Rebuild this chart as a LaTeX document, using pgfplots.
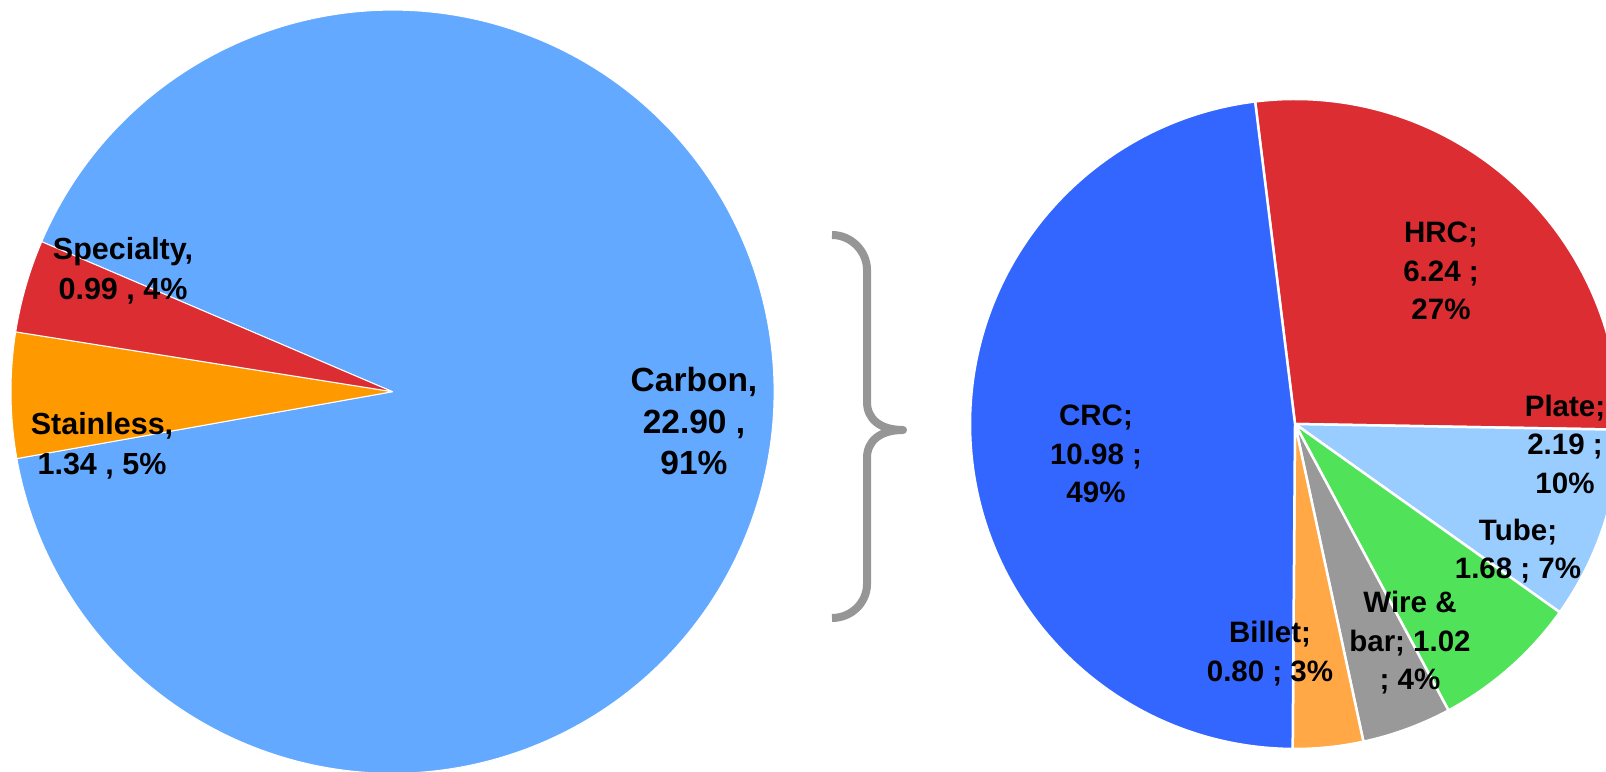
\documentclass[border=0pt]{standalone}
\usepackage{pgfplots}
\usepackage{pgfplotstable}
\pgfplotsset{compat=1.18}
\usepackage{fontspec}
\setmainfont{Liberation Sans}

\definecolor{carbonblue}{HTML}{63A9FF}
\definecolor{specred}{HTML}{DC2D33}
\definecolor{stainorange}{HTML}{FF9900}
\definecolor{crcblue}{HTML}{3366FF}
\definecolor{platecyan}{HTML}{99CCFF}
\definecolor{tubegreen}{HTML}{50E35A}
\definecolor{wiregray}{HTML}{999999}
\definecolor{billetorange}{HTML}{FFA845}
\definecolor{bracegray}{HTML}{969696}

% steel consumption by type
\pgfplotstableread{
slice value color
Carbon 22.90 carbonblue
Stainless 1.34 stainorange
Specialty 0.99 specred
}\steeltypes

% carbon steel by product
\pgfplotstableread{
slice value color
HRC 6.24 specred
Plate 2.19 platecyan
Tube 1.68 tubegreen
WireBar 1.02 wiregray
Billet 0.80 billetorange
CRC 10.98 crcblue
}\carbonproducts

% draws the rows of table #1 as wedges around (#2,#3), radius #4,
% clockwise from angle #5, separated by white lines of width #6
\newcommand\drawpie[6]{%
  \pgfplotstablegetrowsof{#1}%
  \pgfmathtruncatemacro\lastrow{\pgfplotsretval-1}%
  \gdef\pietotal{0}%
  \foreach \i in {0,...,\lastrow}{%
    \pgfplotstablegetelem{\i}{value}\of{#1}%
    \pgfmathparse{\pietotal+\pgfplotsretval}%
    \xdef\pietotal{\pgfmathresult}}%
  \xdef\pieangle{#5}%
  \foreach \i in {0,...,\lastrow}{%
    \pgfplotstablegetelem{\i}{value}\of{#1}%
    \pgfmathsetmacro\piesweep{360*\pgfplotsretval/\pietotal}%
    \pgfplotstablegetelem{\i}{color}\of{#1}%
    \edef\piecolor{\pgfplotsretval}%
    \pgfmathsetmacro\pieend{\pieangle-\piesweep}%
    \fill[\piecolor, draw=white, line width=#6, line join=round]
      (axis cs:#2,#3) -- ++(\pieangle:#4pt)
      arc[start angle=\pieangle, end angle=\pieend, radius=#4pt] -- cycle;
    \xdef\pieangle{\pieend}}%
}

\begin{document}
\begin{tikzpicture}
\path[use as bounding box] (0,0) rectangle (1606pt,771pt);
\clip (0,0) rectangle (1606pt,771pt);
\begin{axis}[
  x=1pt, y=1pt,
  xmin=0, xmax=1606, ymin=0, ymax=771,
  hide axis, clip=false,
  at={(0,0)}, anchor=south west,
]
\pgfplotsextra{\drawpie{\steeltypes}{392.5}{379.3}{381.5}{156.85}{1pt}}
\pgfplotsextra{\drawpie{\carbonproducts}{1295}{347}{325}{97.05}{2.5pt}}

% brace joining the carbon slice to its breakdown
\draw[bracegray, line width=8pt, line join=round]
  (axis cs:832,536) .. controls (axis cs:851,536) and (axis cs:867,520) .. (axis cs:867,501)
  -- (axis cs:867,369) .. controls (axis cs:867,352) and (axis cs:880,341) .. (axis cs:903,341)
  .. controls (axis cs:880,341) and (axis cs:867,330) .. (axis cs:867,313)
  -- (axis cs:867,187) .. controls (axis cs:867,168) and (axis cs:851,153) .. (axis cs:832,153);

\begin{scope}[every node/.style={align=center, inner sep=0pt,
    font=\fontsize{30.5}{40}\selectfont\bfseries}]
\node at (axis cs:123,500.5) {Specialty,\\0.99 , 4\%};
\node at (axis cs:102,325.5) {Stainless,\\1.34 , 5\%};
\end{scope}
\node[align=center, inner sep=0pt, font=\fontsize{33.5}{41.5}\selectfont\bfseries]
  at (axis cs:694,349.5) {Carbon,\\22.90 ,\\91\%};

\begin{scope}[every node/.style={align=center, inner sep=0pt,
    font=\fontsize{29.5}{38.5}\selectfont\bfseries}]
\node at (axis cs:1441,500) {HRC;\\6.24 ;\\27\%};
\node at (axis cs:1565,327) {Plate;\\2.19 ;\\10\%};
\node at (axis cs:1518,220) {Tube;\\1.68 ; 7\%};
\node at (axis cs:1410,128) {Wire \&\\bar; 1.02\\; 4\%};
\node at (axis cs:1270,117.5) {Billet;\\0.80 ; 3\%};
\node at (axis cs:1096,317) {CRC;\\10.98 ;\\49\%};
\end{scope}
\end{axis}
\end{tikzpicture}
\end{document}
